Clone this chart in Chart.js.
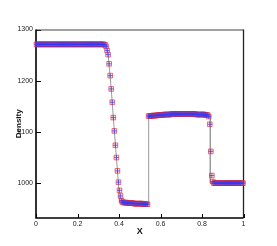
<!DOCTYPE html>
<html>
<head>
<meta charset="utf-8">
<script src="https://cdn.jsdelivr.net/npm/chart.js@4/dist/chart.umd.min.js"></script>
<style>html,body{margin:0;padding:0;background:#fff;}canvas{display:block;}</style>
</head>
<body>
<canvas id="c" width="277" height="246"></canvas>
<script>
// cell-centre positions
const xCells = [
0.0025,0.0075,0.0125,0.0175,0.0225,0.0275,0.0325,0.0375,0.0425,0.0475,
0.0525,0.0575,0.0625,0.0675,0.0725,0.0775,0.0825,0.0875,0.0925,0.0975,
0.1025,0.1075,0.1125,0.1175,0.1225,0.1275,0.1325,0.1375,0.1425,0.1475,
0.1525,0.1575,0.1625,0.1675,0.1725,0.1775,0.1825,0.1875,0.1925,0.1975,
0.2025,0.2075,0.2125,0.2175,0.2225,0.2275,0.2325,0.2375,0.2425,0.2475,
0.2525,0.2575,0.2625,0.2675,0.2725,0.2775,0.2825,0.2875,0.2925,0.2975,
0.3025,0.3075,0.3125,0.3175,0.3225,0.3275,0.3325,0.3375,0.3425,0.3475,
0.3525,0.3575,0.3625,0.3675,0.3725,0.3775,0.3825,0.3875,0.3925,0.3975,
0.4025,0.4075,0.4125,0.4175,0.4225,0.4275,0.4325,0.4375,0.4425,0.4475,
0.4525,0.4575,0.4625,0.4675,0.4725,0.4775,0.4825,0.4875,0.4925,0.4975,
0.5025,0.5075,0.5125,0.5175,0.5225,0.5275,0.5325,0.5375,0.5425,0.5475,
0.5525,0.5575,0.5625,0.5675,0.5725,0.5775,0.5825,0.5875,0.5925,0.5975,
0.6025,0.6075,0.6125,0.6175,0.6225,0.6275,0.6325,0.6375,0.6425,0.6475,
0.6525,0.6575,0.6625,0.6675,0.6725,0.6775,0.6825,0.6875,0.6925,0.6975,
0.7025,0.7075,0.7125,0.7175,0.7225,0.7275,0.7325,0.7375,0.7425,0.7475,
0.7525,0.7575,0.7625,0.7675,0.7725,0.7775,0.7825,0.7875,0.7925,0.7975,
0.8025,0.8075,0.8125,0.8175,0.8225,0.8275,0.8325,0.8375,0.8425,0.8475,
0.8525,0.8575,0.8625,0.8675,0.8725,0.8775,0.8825,0.8875,0.8925,0.8975,
0.9025,0.9075,0.9125,0.9175,0.9225,0.9275,0.9325,0.9375,0.9425,0.9475,
0.9525,0.9575,0.9625,0.9675,0.9725,0.9775,0.9825,0.9875,0.9925,0.9975
];
// numerical density (squares and crosses sit on the same values)
const densityNumeric = [
1271,1271,1271,1271,1271,1271,1271,1271,1271,1271,
1271,1271,1271,1271,1271,1271,1271,1271,1271,1271,
1271,1271,1271,1271,1271,1271,1271,1271,1271,1271,
1271,1271,1271,1271,1271,1271,1271,1271,1271,1271,
1271,1271,1271,1271,1271,1271,1271,1271,1271,1271,
1271,1271,1271,1271,1271,1271,1271,1271,1271,1271,
1271,1271,1271,1271,1271,1271,1270,1267,1259,1251,
1233,1210,1184,1158,1128,1102,1074,1050,1024,1002,
986,975,966,963,962,962,962,962,961,961,
961,961,961,961,960,960,960,960,960,960,
960,960,960,959,959,959,959,959,1131,1131,
1131,1131,1132,1132,1132,1132,1132,1133,1133,1133,
1133,1133,1133,1134,1134,1134,1134,1134,1134,1134,
1135,1135,1135,1135,1135,1135,1135,1135,1135,1135,
1135,1135,1135,1135,1135,1135,1135,1135,1135,1135,
1135,1135,1135,1135,1134,1134,1134,1134,1134,1134,
1134,1134,1134,1133,1133,1133,1130,1115,1062,1015,
1003,1000,1000,1000,1000,1000,1000,1000,1000,1000,
1000,1000,1000,1000,1000,1000,1000,1000,1000,1000,
1000,1000,1000,1000,1000,1000,1000,1000,1000,1000
];
// exact solution (grey line)
const exactX = [0, 0.338, 0.3475, 0.3625, 0.3775, 0.3925, 0.4035, 0.543, 0.543, 0.840, 0.840, 1];
const exactY = [1271, 1271, 1251, 1184, 1102, 1024, 961, 961, 1133, 1133, 1000, 1000];
const xTicks = [0, 0.2, 0.4, 0.6, 0.8, 1];
const yTicks = [1000, 1100, 1200, 1300];

const pts = (xs, ys) => xs.map((x, i) => ({x: x, y: ys[i]}));

const framePlugin = {
  id: 'frame',
  beforeDatasetsDraw(chart) {
    const {ctx, chartArea: a, scales: {x, y}} = chart;
    ctx.save();
    ctx.strokeStyle = '#000';
    ctx.lineWidth = 1;
    ctx.beginPath();
    xTicks.forEach(v => { const px = Math.round(x.getPixelForValue(v)) + 0.5; ctx.moveTo(px, a.bottom); ctx.lineTo(px, a.bottom - 4); });
    yTicks.forEach(v => { const py = Math.round(y.getPixelForValue(v)) + 0.5; ctx.moveTo(a.left, py); ctx.lineTo(a.left + 5, py); });
    ctx.stroke();
    ctx.strokeStyle = '#444';
    ctx.lineWidth = 1;
    ctx.beginPath();
    ctx.moveTo(a.left, a.top + 0.5); ctx.lineTo(a.right, a.top + 0.5);
    ctx.stroke();
    ctx.strokeStyle = '#222';
    ctx.lineWidth = 1.3;
    ctx.beginPath();
    ctx.moveTo(a.right, a.top); ctx.lineTo(a.right, a.bottom);
    ctx.stroke();
    ctx.strokeStyle = '#000';
    ctx.lineWidth = 1.6;
    ctx.beginPath();
    ctx.moveTo(a.left, a.top); ctx.lineTo(a.left, a.bottom); ctx.lineTo(a.right, a.bottom);
    ctx.stroke();
    ctx.restore();
  }
};

new Chart(document.getElementById('c'), {
  type: 'scatter',
  data: {
    datasets: [
      {
        type: 'line', data: pts(exactX, exactY), borderColor: '#9a9a9a', borderWidth: 1,
        pointRadius: 0, fill: false, tension: 0, order: 3, clip: false
      },
      {
        data: pts(xCells, densityNumeric), pointStyle: 'rect', pointRadius: 3.3,
        borderColor: 'rgba(225,30,50,0.6)', backgroundColor: 'rgba(255,130,130,0.22)',
        borderWidth: 1, showLine: false, order: 2, clip: false
      },
      {
        data: pts(xCells, densityNumeric), pointStyle: 'cross', pointRadius: 2.4,
        borderColor: 'rgba(40,60,255,0.7)', borderWidth: 1, showLine: false, order: 1, clip: false
      }
    ]
  },
  options: {
    responsive: false,
    animation: false,
    devicePixelRatio: 1,
    layout: {padding: {top: 29.5, right: 33.5, left: 0, bottom: 0}},
    plugins: {legend: {display: false}, tooltip: {enabled: false}},
    scales: {
      x: {
        type: 'linear', min: 0, max: 1,
        afterBuildTicks: s => { s.ticks = xTicks.map(v => ({value: v})); },
        afterFit: s => { s.height = 28; },
        grid: {display: false, drawTicks: false}, border: {display: false},
        ticks: {font: {family: 'Liberation Sans, Arial', size: 7}, color: '#222', padding: 2, maxRotation: 0,
          callback: v => String(Math.round(v * 10) / 10)},
        title: {display: true, text: 'X', font: {family: 'Liberation Sans, Arial', size: 9, weight: 'bold'}, color: '#111', padding: {top: 0, bottom: 9.5}}
      },
      y: {
        type: 'linear', min: 932, max: 1300,
        afterBuildTicks: s => { s.ticks = yTicks.map(v => ({value: v})); },
        afterFit: s => { s.width = 36; },
        grid: {display: false, drawTicks: false}, border: {display: false},
        ticks: {font: {family: 'Liberation Sans, Arial', size: 7}, color: '#222', padding: 3,
          callback: v => String(v)},
        title: {display: true, text: 'Density', font: {family: 'Liberation Sans, Arial', size: 8, weight: 'bold'}, color: '#111', padding: {top: 14, bottom: 0}}
      }
    }
  },
  plugins: [framePlugin]
});
</script>
</body>
</html>
